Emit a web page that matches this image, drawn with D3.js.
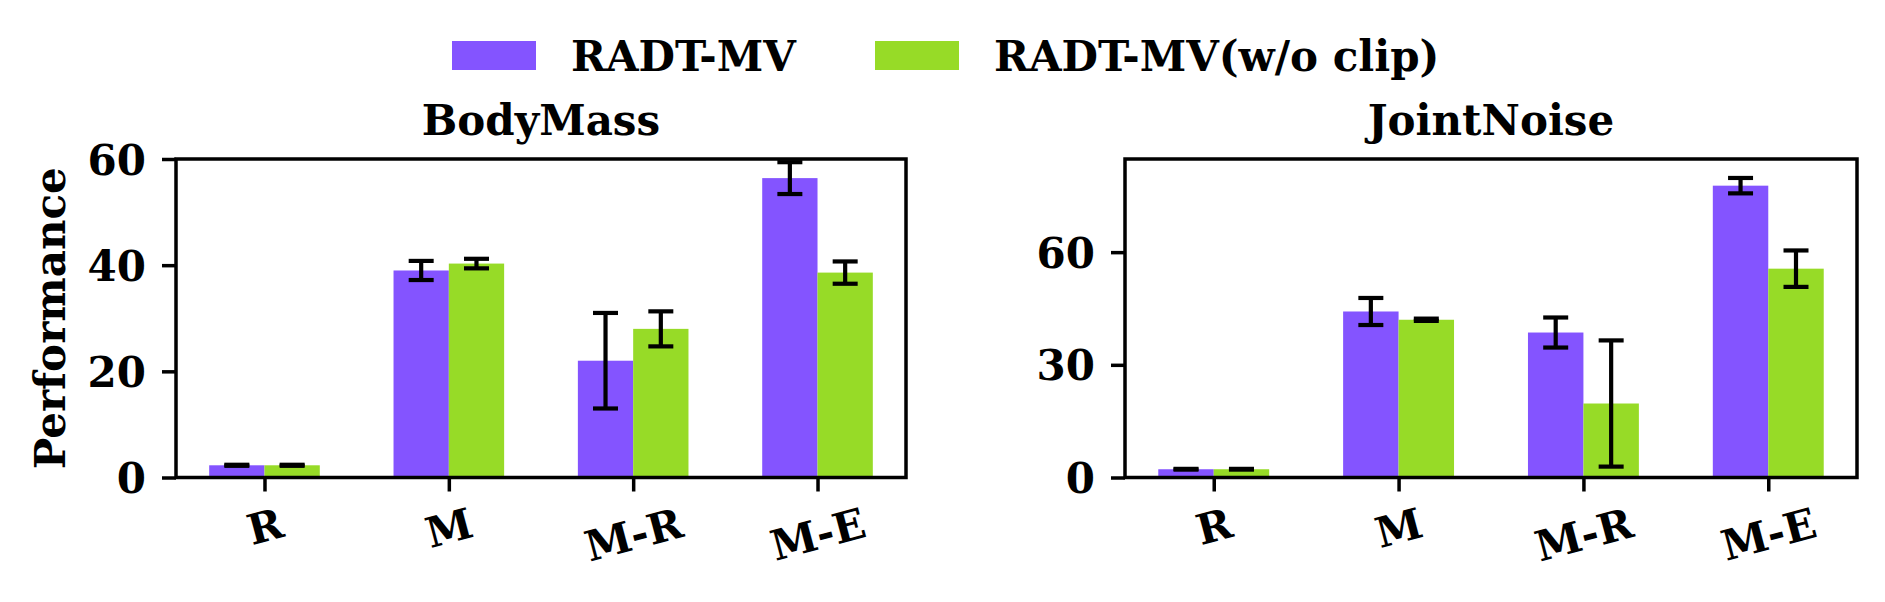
<!DOCTYPE html>
<html>
<head>
<meta charset="utf-8">
<script src="https://cdn.jsdelivr.net/npm/d3@7"></script>
<style>
  html, body { margin: 0; padding: 0; background: #fff; }
  svg { display: block; }
  text { font-family: "DejaVu Serif", serif; font-weight: bold; fill: #000; }
</style>
</head>
<body>
<svg id="chart" width="1885" height="602"></svg>
<script>
// ---- data ----
const categories = ["R", "M", "M-R", "M-E"];
const seriesNames = ["RADT-MV", "RADT-MV(w/o clip)"];
const seriesColors = ["#8454FF", "#97DB27"];
const panelTitles = ["BodyMass", "JointNoise"];

const bodyMassRADT = [2.3, 39.0, 22.0, 56.4];
const bodyMassRADTErr = [0.1, 1.8, 9.0, 3.0];
const bodyMassNoClip = [2.3, 40.3, 28.0, 38.6];
const bodyMassNoClipErr = [0.1, 0.9, 3.3, 2.1];

const jointNoiseRADT = [2.2, 44.2, 38.6, 77.7];
const jointNoiseRADTErr = [0.1, 3.6, 4.0, 2.05];
const jointNoiseNoClip = [2.2, 42.0, 19.7, 55.6];
const jointNoiseNoClipErr = [0.1, 0.3, 16.8, 4.85];

const bodyMassTicks = [0, 20, 40, 60];
const jointNoiseTicks = [0, 30, 60];
const yMaxes = [60, 84.8];

// ---- layout ----
const svg = d3.select("#chart");
const FS = 42;
const panels = [
  { x0: 176, x1: 906, title: panelTitles[0], ticks: bodyMassTicks, yMax: yMaxes[0],
    vals: [bodyMassRADT, bodyMassNoClip], errs: [bodyMassRADTErr, bodyMassNoClipErr] },
  { x0: 1125, x1: 1857, title: panelTitles[1], ticks: jointNoiseTicks, yMax: yMaxes[1],
    vals: [jointNoiseRADT, jointNoiseNoClip], errs: [jointNoiseRADTErr, jointNoiseNoClipErr] }
];
const yTop = 159, yBot = 477.5;
const barW = 0.3;

panels.forEach((p, pi) => {
  const x = d3.scaleLinear().domain([-0.48, categories.length - 1 + 0.48]).range([p.x0, p.x1]);
  const y = d3.scaleLinear().domain([0, p.yMax]).range([yBot, yTop]);
  const g = svg.append("g");

  // bars
  p.vals.forEach((vals, si) => {
    const off = si === 0 ? -barW : 0;
    g.selectAll(null).data(vals).enter().append("rect")
      .attr("x", (d, i) => x(i + off))
      .attr("width", x(barW) - x(0))
      .attr("y", d => y(d))
      .attr("height", d => y(0) - y(d))
      .attr("fill", seriesColors[si]);
  });
  // error bars
  p.vals.forEach((vals, si) => {
    const cxOff = si === 0 ? -barW / 2 : barW / 2;
    const errs = p.errs[si];
    const eg = g.selectAll(null).data(vals).enter().append("g");
    eg.append("line")
      .attr("x1", (d, i) => x(i + cxOff)).attr("x2", (d, i) => x(i + cxOff))
      .attr("y1", (d, i) => y(d - errs[i])).attr("y2", (d, i) => y(d + errs[i]))
      .attr("stroke", "#000").attr("stroke-width", 4.2);
    [-1, 1].forEach(sgn => {
      eg.append("line")
        .attr("x1", (d, i) => x(i + cxOff) - 12.5).attr("x2", (d, i) => x(i + cxOff) + 12.5)
        .attr("y1", (d, i) => y(d + sgn * errs[i])).attr("y2", (d, i) => y(d + sgn * errs[i]))
        .attr("stroke", "#000").attr("stroke-width", 4.2);
    });
  });

  // y axis
  const yAxis = d3.axisLeft(y).tickValues(p.ticks).tickSize(14).tickPadding(16).tickFormat(d3.format("d"));
  const ya = g.append("g").attr("transform", `translate(${p.x0},0)`).call(yAxis);
  ya.select(".domain").remove();
  ya.selectAll(".tick line").attr("stroke", "#000").attr("stroke-width", 3.5);
  ya.selectAll(".tick text").attr("font-size", FS).attr("font-family", "DejaVu Serif")
    .attr("font-weight", "bold").attr("dy", "0.36em");

  // x axis
  const xAxis = d3.axisBottom(x).tickValues(d3.range(categories.length)).tickSize(14)
    .tickFormat(i => categories[i]);
  const xa = g.append("g").attr("transform", `translate(0,${yBot})`).call(xAxis);
  xa.select(".domain").remove();
  xa.selectAll(".tick line").attr("stroke", "#000").attr("stroke-width", 3.5);
  xa.selectAll(".tick text").each(function () {
    const t = d3.select(this)
      .attr("font-size", FS).attr("font-family", "DejaVu Serif").attr("font-weight", "bold")
      .attr("text-anchor", "middle").attr("dominant-baseline", "central").attr("dy", null).attr("y", 0);
    const w = this.getComputedTextLength();
    const a = 15 * Math.PI / 180;
    const h = FS * 1.17;
    const boxH = w * Math.sin(a) + h * Math.cos(a);
    const cy = 14 + 7 + boxH / 2;
    t.attr("transform", `translate(0,${cy}) rotate(-15)`);
  });

  // frame
  g.append("rect").attr("x", p.x0).attr("y", yTop).attr("width", p.x1 - p.x0).attr("height", yBot - yTop)
    .attr("fill", "none").attr("stroke", "#000").attr("stroke-width", 3.5);

  // title
  g.append("text").attr("x", (p.x0 + p.x1) / 2).attr("y", 135).attr("text-anchor", "middle")
    .attr("font-size", FS).text(p.title);
});

// y label
svg.append("text").attr("transform", `translate(50,${(yTop + yBot) / 2}) rotate(-90)`)
  .attr("text-anchor", "middle").attr("dominant-baseline", "central")
  .attr("font-size", FS).text("Performance");

// legend
const legendItems = [
  { px: 452, tx: 571 },
  { px: 875, tx: 994 }
];
seriesNames.forEach((name, i) => {
  svg.append("rect").attr("x", legendItems[i].px).attr("y", 41).attr("width", 84).attr("height", 29)
    .attr("fill", seriesColors[i]);
  svg.append("text").attr("x", legendItems[i].tx).attr("y", 70.5).attr("font-size", FS).text(name);
});
</script>
</body>
</html>
